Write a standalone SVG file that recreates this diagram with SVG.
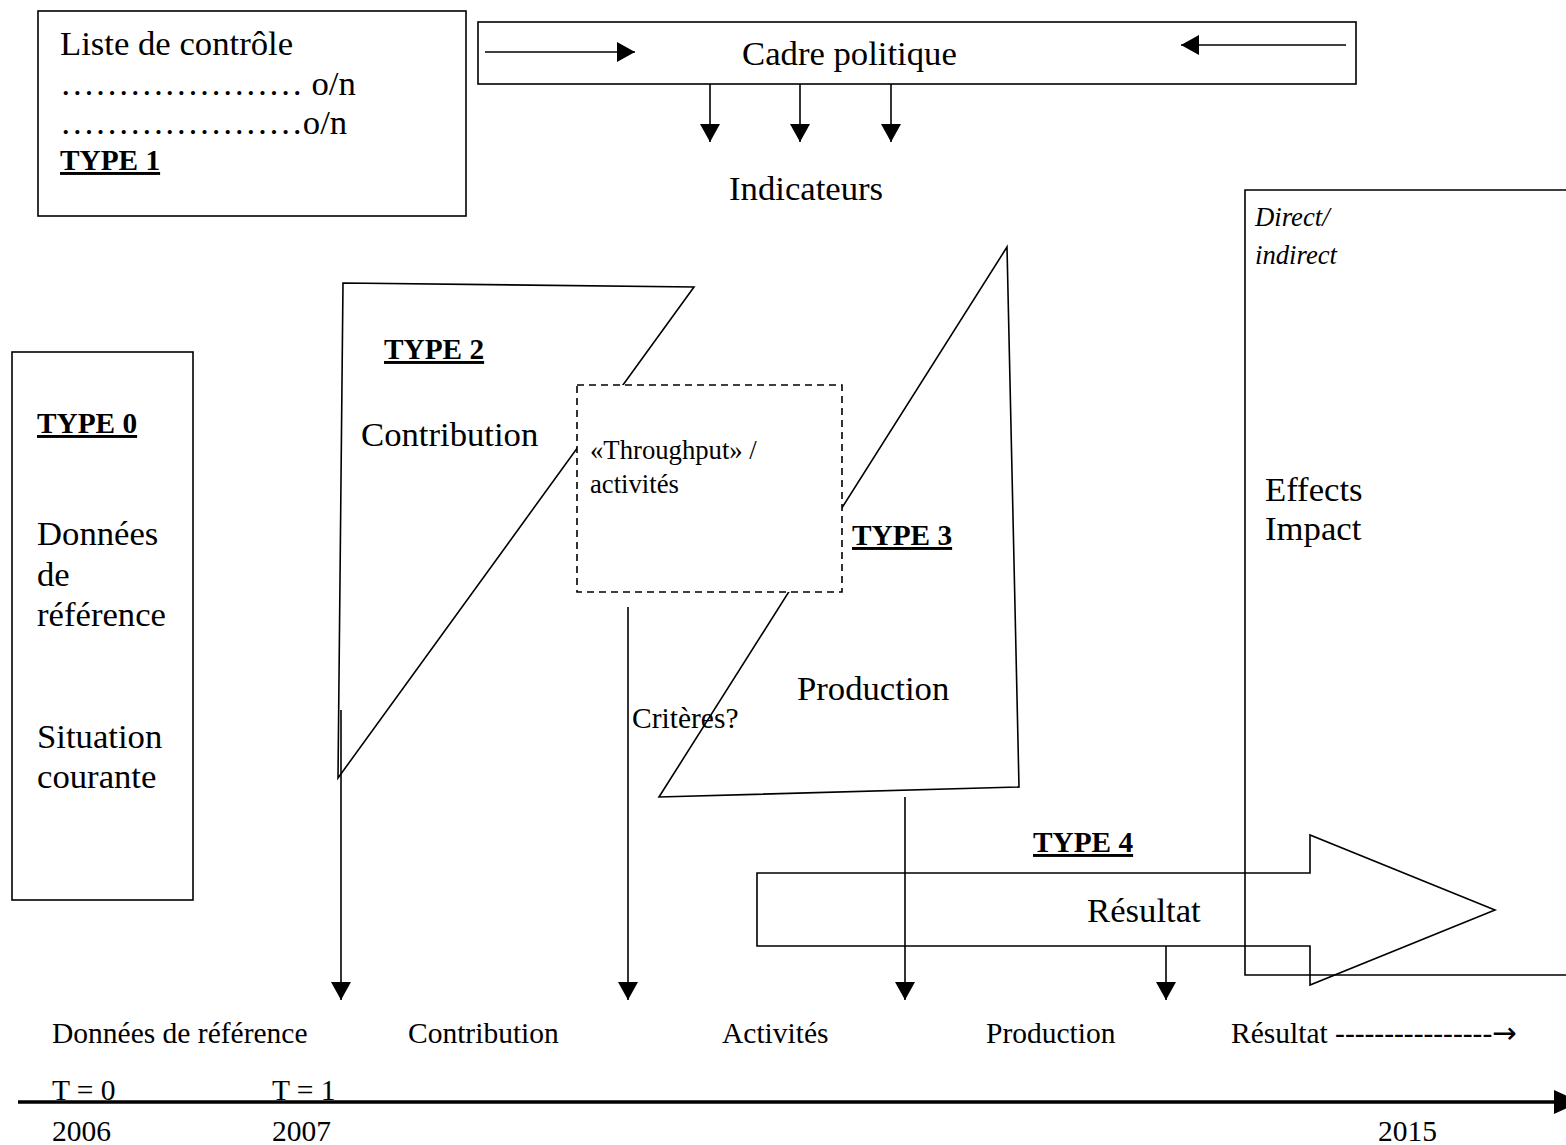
<svg xmlns="http://www.w3.org/2000/svg" width="1566" height="1145" viewBox="0 0 1566 1145">
<style>
text{font-family:"Liberation Serif","Times New Roman",serif;fill:#000}
.big{font-size:34.7px}
.med{font-size:29.5px}
.sm{font-size:26.7px}
.type{font-size:29.3px;font-weight:bold;text-decoration:underline}
.it{font-style:italic;font-size:26.7px}
.ln{fill:none;stroke:#000;stroke-width:1.6}
.dash{fill:#fff;stroke:#000;stroke-width:1.6;stroke-dasharray:7,5}
.arr{font-family:"DejaVu Sans",sans-serif}
</style>
<defs>
<marker id="ah" viewBox="0 0 18 20" refX="18" refY="10" markerWidth="18" markerHeight="20" markerUnits="userSpaceOnUse" orient="auto">
<path d="M0,0 L18,10 L0,20 Z" fill="#000"/>
</marker>
</defs>
<rect width="1566" height="1145" fill="#fff"/>

<g id="type2-shape">
<polygon class="ln" points="343,283 694,287 338,778"/>
<text class="type" x="384" y="359">TYPE 2</text>
<text class="big" x="361" y="446">Contribution</text>
</g>

<g id="type3-shape">
<polygon class="ln" points="1007,247 1019,787 659,797"/>
<text class="type" x="852" y="545">TYPE 3</text>
<text class="big" x="797" y="700">Production</text>
</g>

<g id="throughput">
<rect class="dash" x="577" y="385" width="265" height="207"/>
<text class="sm" x="590" y="459">«Throughput» /</text>
<text class="sm" x="590" y="493">activités</text>
</g>

<g id="checklist">
<rect class="ln" x="38" y="11" width="428" height="205"/>
<text class="big" x="60" y="55">Liste de contrôle</text>
<text class="big" x="60" y="95">………………… o/n</text>
<text class="big" x="60" y="134">…………………o/n</text>
<text class="type" x="60" y="170">TYPE 1</text>
</g>

<g id="cadre">
<rect class="ln" x="478" y="22" width="878" height="62"/>
<text class="big" x="742" y="65">Cadre politique</text>
</g>

<text id="indicateurs" class="big" x="729" y="200">Indicateurs</text>

<g id="type0">
<rect class="ln" x="12" y="352" width="181" height="548"/>
<text class="type" x="37" y="433">TYPE 0</text>
<text class="big" x="37" y="545">Données</text>
<text class="big" x="37" y="586">de</text>
<text class="big" x="37" y="626">référence</text>
<text class="big" x="37" y="748">Situation</text>
<text class="big" x="37" y="788">courante</text>
</g>

<g id="effects">
<path class="ln" d="M1566,190 H1245 V975 H1566"/>
<text class="it" x="1255" y="226">Direct/</text>
<text class="it" x="1255" y="264">indirect</text>
<text class="big" x="1265" y="501">Effects</text>
<text class="big" x="1265" y="540">Impact</text>
</g>

<g id="type4">
<polygon class="ln" points="757,873 1310,873 1310,835 1495,910 1310,985 1310,946 757,946"/>
<text class="type" x="1033" y="852">TYPE 4</text>
<text class="big" x="1087" y="922">Résultat</text>
</g>

<g id="connectors">
<line class="ln" x1="485" y1="52" x2="635" y2="52" marker-end="url(#ah)"/>
<line class="ln" x1="1346" y1="45" x2="1181" y2="45" marker-end="url(#ah)"/>
<line class="ln" x1="710" y1="84" x2="710" y2="142" marker-end="url(#ah)"/>
<line class="ln" x1="800" y1="84" x2="800" y2="142" marker-end="url(#ah)"/>
<line class="ln" x1="891" y1="84" x2="891" y2="142" marker-end="url(#ah)"/>
<line class="ln" x1="341" y1="710" x2="341" y2="1000" marker-end="url(#ah)"/>
<line class="ln" x1="628" y1="607" x2="628" y2="1000" marker-end="url(#ah)"/>
<line class="ln" x1="905" y1="797" x2="905" y2="1000" marker-end="url(#ah)"/>
<line class="ln" x1="1166" y1="946" x2="1166" y2="1000" marker-end="url(#ah)"/>
<line x1="18" y1="1102" x2="1556" y2="1102" stroke="#000" stroke-width="3.5"/>
<polygon points="1554,1090 1580,1102 1554,1114" fill="#000"/>
</g>

<text class="med" x="632" y="728">Critères?</text>

<g id="timeline-labels">
<text class="med" x="52" y="1043">Données de référence</text>
<text class="med" x="408" y="1043">Contribution</text>
<text class="med" x="722" y="1043">Activités</text>
<text class="med" x="986" y="1043">Production</text>
<text class="med" x="1231" y="1043">Résultat ----------------<tspan class="arr">→</tspan></text>
<text class="med" x="52" y="1100">T = 0</text>
<text class="med" x="272" y="1100">T = 1</text>
<text class="med" x="52" y="1141">2006</text>
<text class="med" x="272" y="1141">2007</text>
<text class="med" x="1378" y="1141">2015</text>
</g>
</svg>
